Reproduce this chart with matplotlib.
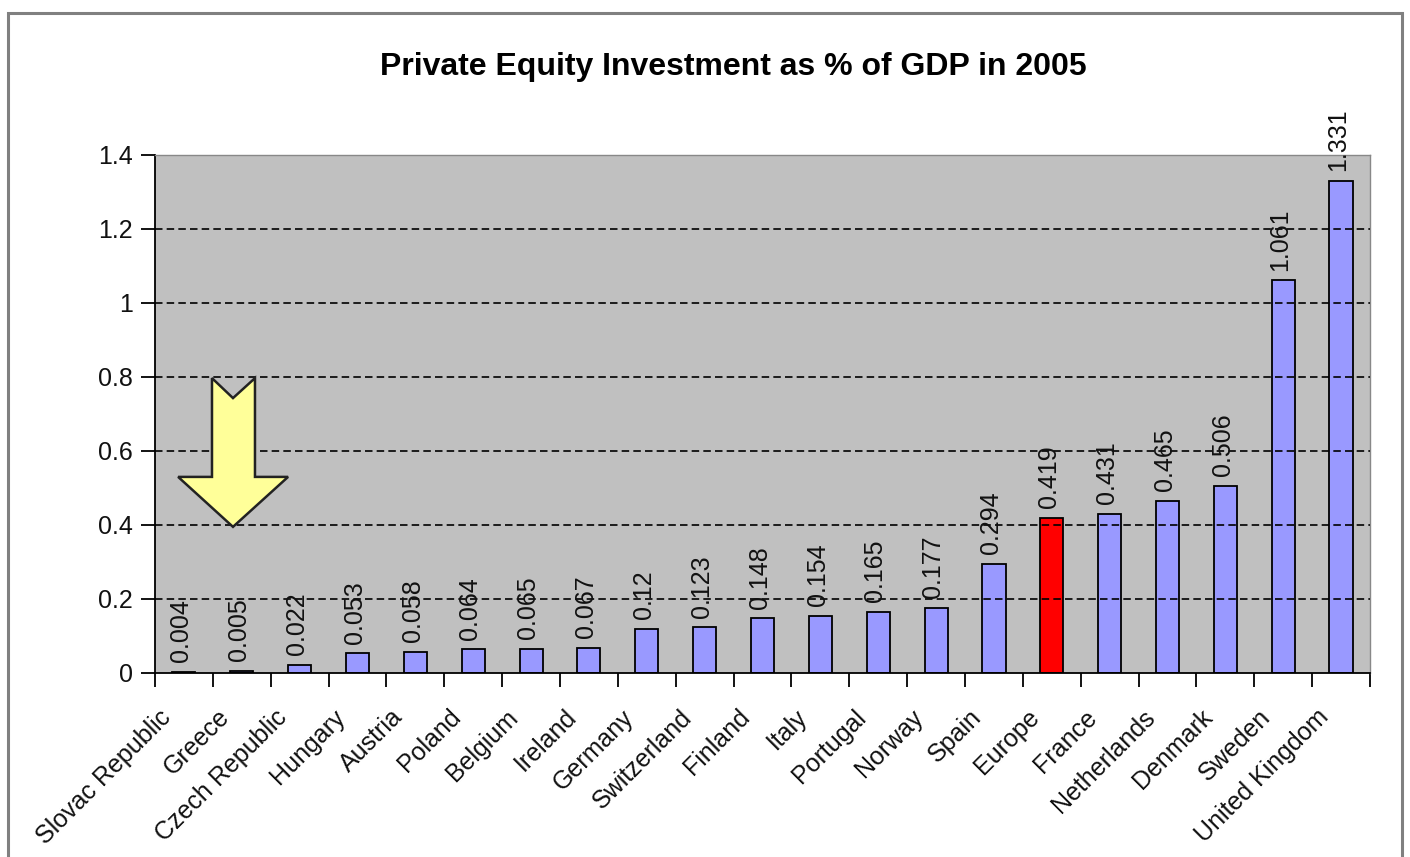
import matplotlib
matplotlib.use("Agg")
import matplotlib.pyplot as plt
from matplotlib.patches import Polygon, Rectangle
from matplotlib.transforms import offset_copy

countries = ["Slovac Republic", "Greece", "Czech Republic", "Hungary", "Austria",
             "Poland", "Belgium", "Ireland", "Germany", "Switzerland", "Finland",
             "Italy", "Portugal", "Norway", "Spain", "Europe", "France",
             "Netherlands", "Denmark", "Sweden", "United Kingdom"]
values = [0.004, 0.005, 0.022, 0.053, 0.058, 0.064, 0.065, 0.067, 0.12, 0.123,
          0.148, 0.154, 0.165, 0.177, 0.294, 0.419, 0.431, 0.465, 0.506, 1.061,
          1.331]
highlight = "Europe"
y_ticks = [0, 0.2, 0.4, 0.6, 0.8, 1.0, 1.2, 1.4]
y_tick_labels = ["0", "0.2", "0.4", "0.6", "0.8", "1", "1.2", "1.4"]
title = "Private Equity Investment as % of GDP in 2005"

plt.rcParams["font.family"] = ["Liberation Sans", "DejaVu Sans"]

W, H = 1410, 857
fig = plt.figure(figsize=(W / 100, H / 100), dpi=100)
fig.patch.set_facecolor("white")

# outer chart frame
fig.patches.append(Rectangle((8 / W, -0.05), 1394 / W, 1 - 13 / H + 0.05,
                             transform=fig.transFigure, fill=False,
                             edgecolor="#808080", linewidth=2.2))

ax = fig.add_axes([155 / W, 1 - 673 / H, (1370 - 155) / W, (673 - 155) / H])
ax.set_facecolor("#C0C0C0")

x = list(range(len(countries)))
colors = ["#FF0000" if c == highlight else "#9999FF" for c in countries]
bars = ax.bar(x, values, width=0.4, color=colors, edgecolor="black",
              linewidth=1.3, zorder=2)

ax.set_xlim(-0.5, len(countries) - 0.5)
ax.set_ylim(0, 1.4)

# dashed gridlines drawn over the bars
for yv in y_ticks[1:-1]:
    ax.axhline(yv, color="black", linewidth=1.2, dashes=(4.5, 2.5), zorder=3)

ax.set_yticks(y_ticks)
ax.set_yticklabels(y_tick_labels, fontsize=18, color="#111111")
ax.tick_params(axis="y", direction="out", length=10, width=1.3, pad=6)

# category ticks sit between bars; labels sit under bar centres
ax.set_xticks([i - 0.5 for i in range(len(countries) + 1)])
ax.set_xticklabels([])
ax.tick_params(axis="x", direction="out", length=10, width=1.3)
lab_tr = offset_copy(ax.transData, fig=fig, x=-25, y=-32, units="dots")
for i, name in enumerate(countries):
    ax.text(i, 0, name, transform=lab_tr, rotation=45, ha="right", va="top",
            rotation_mode="anchor", fontsize=18, color="#111111", clip_on=False)

for s in ["left", "bottom"]:
    ax.spines[s].set_color("black")
    ax.spines[s].set_linewidth(1.3)
for s in ["top", "right"]:
    ax.spines[s].set_color("#888888")
    ax.spines[s].set_linewidth(1.0)

# value labels above each bar
for i, v in enumerate(values):
    ax.annotate(f"{v:g}", xy=(i, v), xytext=(-2, 7), textcoords="offset points",
                rotation=90, ha="center", va="bottom", fontsize=18,
                color="#111111", zorder=4, annotation_clip=False)

# yellow down arrow
arrow = Polygon([(0.485, 0.797), (0.848, 0.743), (1.228, 0.797), (1.228, 0.530),
                 (1.80, 0.530), (0.848, 0.395), (-0.10, 0.530), (0.485, 0.530)],
                closed=True, facecolor="#FFFF99", edgecolor="#222222",
                linewidth=1.8, zorder=5)
ax.add_patch(arrow)

fig.text(733 / W, 1 - 67 / H, title, ha="center", va="center", fontsize=23,
         fontweight="bold", color="black")

fig.savefig("out.png", dpi=100)
